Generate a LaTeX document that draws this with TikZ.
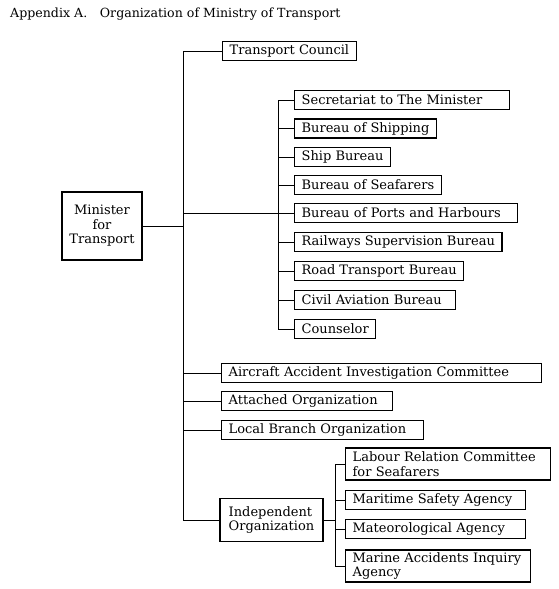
\documentclass[tikz,border=0pt]{standalone}
\usepackage{fontspec}
\setmainfont{DejaVu Serif}
\usetikzlibrary{positioning}

\begin{document}
\begin{tikzpicture}[
    x=1pt, y=-1pt,
    font=\fontsize{13}{14.5}\selectfont,
    unit/.style={
        rectangle, draw, line width=1.3pt,
        anchor=west, align=left,
        minimum height=19pt, inner xsep=7pt, inner ysep=1pt,
    },
    boxw/.style={text width=#1},
    twoline/.style={unit, minimum height=32pt},
    link/.style={line width=0.8pt},
]

% Page frame
\useasboundingbox (0,0) rectangle (558,589);

% Title
\node[anchor=base west, inner sep=0pt, font=\fontsize{12.6}{14}\selectfont] (title) at (10,17) {
    Appendix A.\quad Organization of Ministry of Transport
};

% Head of the ministry
\node[unit, anchor=center, align=center, minimum width=80pt, minimum height=68pt] (minister) at (102,226) {
    Minister\\for\\Transport
};
\node[unit] (council) at (222,51) {Transport Council};

% Internal bureaus
\node[unit, boxw=201pt] (sec)   at (294,100) {Secretariat to The Minister};
\node[unit]             (bship) at (294,128.6) {Bureau of Shipping};
\node[unit]             (sbur)  at (294,157) {Ship Bureau};
\node[unit]             (sea)   at (294,185) {Bureau of Seafarers};
\node[unit, boxw=209pt] (ports) at (294,213) {Bureau of Ports and Harbours};
\node[unit]             (rail)  at (294,242) {Railways Supervision Bureau};
\node[unit]             (road)  at (294,271) {Road Transport Bureau};
\node[unit, boxw=147pt] (civil) at (294,300) {Civil Aviation Bureau};
\node[unit]             (couns) at (294,329) {Counselor};

% Other organs
\node[unit, boxw=306pt] (aircraft) at (221,373) {Aircraft Accident Investigation Committee};
\node[unit, boxw=157pt] (attached) at (221,401) {Attached Organization};
\node[unit, boxw=188pt] (local)    at (221,430) {Local Branch Organization};
\node[unit, anchor=center, minimum width=103pt, minimum height=43pt] (indep) at (271.5,520) {
    Independent\\Organization
};

% Independent organizations
\node[twoline, boxw=191pt] (labour)   at (345,464) {Labour Relation Committee\\for Seafarers};
\node[unit, boxw=166pt]    (maritime) at (345,500) {Maritime Safety Agency};
\node[unit, boxw=166pt]    (meteo)    at (345,529) {Mateorological Agency};
\node[twoline, boxw=171pt] (marine)   at (345,566) {Marine Accidents Inquiry\\Agency};

% Bus lines
\coordinate (trunk) at (183,0);
\coordinate (bbus)  at (278,0);
\coordinate (ibus)  at (335,0);

% Main trunk
\draw[link] (council.west) -| (trunk |- indep.west) -- (indep.west);
\draw[link] (minister.east) -- (minister.east -| trunk);
\draw[link] (trunk |- ports.west) -- (ports.west);
\foreach \n in {aircraft, attached, local}
    \draw[link] (trunk |- \n.west) -- (\n.west);

% Bureau bus
\draw[link] (sec.west) -| (bbus |- couns.west) -- (couns.west);
\foreach \n in {bship, sbur, sea, rail, road, civil}
    \draw[link] (bbus |- \n.west) -- (\n.west);

% Independent bus
\draw[link] (indep.east) -- (indep.east -| ibus);
\draw[link] (labour.west) -| (ibus |- marine.west) -- (marine.west);
\foreach \n in {maritime, meteo}
    \draw[link] (ibus |- \n.west) -- (\n.west);

\end{tikzpicture}
\end{document}
